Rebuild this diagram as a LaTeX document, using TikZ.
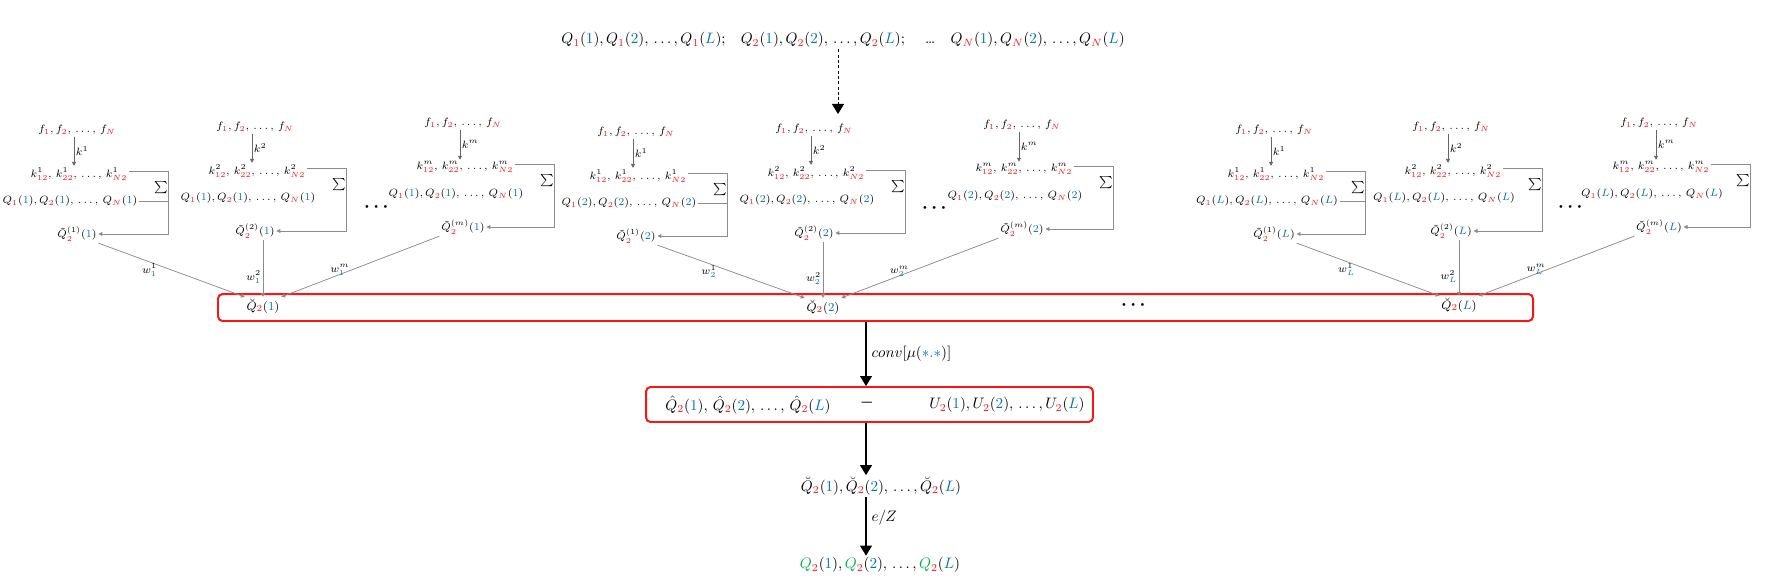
\documentclass[tikz,border=0pt]{standalone}
\usepackage{amsmath, amssymb}
\usepackage{tikz}
\usetikzlibrary{arrows.meta, calc}
\definecolor{rosso}{RGB}{255,20,20}
\definecolor{blu}{RGB}{0,112,192}
\definecolor{verde}{RGB}{0,176,80}
\newcommand{\rs}[1]{\textcolor{rosso}{#1}}
\newcommand{\bl}[1]{\textcolor{blu}{#1}}
% un blocco: #1 nome, #2 x, #3 y, #4 indice k, #5 argomento
\newcommand{\blocco}[5]{
\node[piccolo] (#1f) at (#2,#3) {$f_{\rs{1}},f_{\rs{2}},\,\dots,\,f_{\rs{N}}$};
\node[piccolo] (#1k) at ({#2+2},{#3+44}) {$k^{#4}_{\rs{12}},\,k^{#4}_{\rs{22}},\,\dots,\,k^{#4}_{\rs{N2}}$};
\node[piccolo] (#1q) at ({#2-7},{#3+71}) {$Q_{\rs{1}}(\bl{#5}),Q_{\rs{2}}(\bl{#5}),\,\dots,\,Q_{\rs{N}}(\bl{#5})$};
\node[piccolo] (#1t) at (#2,{#3+104}) {$\tilde{Q}^{(#4)}_{\rs{2}}(\bl{#5})$};
\node[medio] (#1s) at ({#2+84},{#3+58}) {$\sum$};
\coordinate (#1d) at ({#2+91},{#3+104});
\coordinate (#1a) at ($(#1f.south)+(-3,0)$);
\draw[black!60, line width=0.5pt, freccina] (#1a) -- (#1a |- #1k.north) node[midway, right, piccolo, text=black] (#1e) {$k^{#4}$};
\draw[linea, freccina] ([yshift=2pt]#1k.east) -| (#1d) -- (#1t.east);
}

\begin{document}
\begin{tikzpicture}[x=0.66pt, y=-0.66pt,
    piccolo/.style={font=\fontsize{7.3}{9}\selectfont, inner sep=1pt},
    medio/.style={font=\footnotesize, inner sep=1pt},
    testo/.style={inner sep=1pt},
    puntini/.style={font=\large, inner sep=0pt},
    linea/.style={draw=black!45, line width=0.5pt},
    freccina/.style={-{Triangle[length=2.6pt,width=2.6pt]}},
    frecciona/.style={-{Triangle[length=6.6pt,width=7.9pt]}, line width=0.8pt},
    rettangolo/.style={draw=rosso, line width=1.3pt, rounded corners=3pt, inner sep=0pt}]
    \useasboundingbox (0,0) rectangle (1786,584);
    % Dati in ingresso
    \node[testo] (cima) at (843,40) {$Q_{\rs{1}}(\bl{1}),Q_{\rs{1}}(\bl{2}),\,\dots,Q_{\rs{1}}(\bl{L})$;\quad
        $Q_{\rs{2}}(\bl{1}),Q_{\rs{2}}(\bl{2}),\,\dots,Q_{\rs{2}}(\bl{L})$;\quad\ \dots\quad
        $Q_{\rs{N}}(\bl{1}),Q_{\rs{N}}(\bl{2}),\,\dots,Q_{\rs{N}}(\bl{L})$};
    \coordinate (punta) at (838,114);
    \draw[frecciona, line width=0.6pt, dash pattern=on 2pt off 1.5pt] (cima.south -| punta) -- (punta);
    % Blocchi
    \blocco{a1}{77}{130}{1}{1}
    \blocco{a2}{255}{127}{2}{1}
    \blocco{a3}{463}{123}{m}{1}
    \blocco{b1}{636}{132}{1}{2}
    \blocco{b2}{814}{129}{2}{2}
    \blocco{b3}{1022}{125}{m}{2}
    \blocco{c1}{1274}{130}{1}{L}
    \blocco{c2}{1451}{127}{2}{L}
    \blocco{c3}{1659}{123}{m}{L}
    \draw[linea] (a1q.east) -- (a1q.east -| a1d);
    \draw[linea] (b1q.east) -- (b1q.east -| b1d);
    \draw[linea] (c1q.east) -- (c1q.east -| c1d);
    \node[puntini] (pa) at (378,207) {$\boldsymbol{\cdots}$};
    \node[puntini] (pb) at (936,208) {$\boldsymbol{\cdots}$};
    \node[puntini] (pc) at (1572,207) {$\boldsymbol{\cdots}$};
    % Primo rettangolo
    \node[rettangolo, minimum width=867.9pt, minimum height=17.8pt] (r1) at (875.5,307.5) {};
    \node[medio] (qb1) at (263,306) {$\breve{Q}_{\rs{2}}(\bl{1})$};
    \node[medio] (qb2) at (823,307) {$\breve{Q}_{\rs{2}}(\bl{2})$};
    \node[medio] (qbL) at (1459,305) {$\breve{Q}_{\rs{2}}(\bl{L})$};
    \node[puntini] (pr) at (1135,305) {$\boldsymbol{\cdots}$};
    % Pesi
    \draw[linea, freccina] (a1t.south east) -- (qb1.north west) node[pos=0.35, below, piccolo] (wa1) {$w^{1}_{\bl{1}}$};
    \draw[linea, freccina] (a2t.south -| qb1.north) -- (qb1.north) node[pos=0.65, left, piccolo] (wa2) {$w^{2}_{\bl{1}}$};
    \draw[linea, freccina] (a3t.south west) -- (qb1.north east) node[pos=0.63, above=-2pt, piccolo] (wa3) {$w^{m}_{\bl{1}}$};
    \draw[linea, freccina] (b1t.south east) -- (qb2.north west) node[pos=0.35, below, piccolo] (wb1) {$w^{1}_{\bl{2}}$};
    \draw[linea, freccina] (b2t.south -| qb2.north) -- (qb2.north) node[pos=0.65, left, piccolo] (wb2) {$w^{2}_{\bl{2}}$};
    \draw[linea, freccina] (b3t.south west) -- (qb2.north east) node[pos=0.63, above=-2pt, piccolo] (wb3) {$w^{m}_{\bl{2}}$};
    \draw[linea, freccina] (c1t.south east) -- (qbL.north west) node[pos=0.35, below, piccolo] (wc1) {$w^{1}_{\bl{L}}$};
    \draw[linea, freccina] (c2t.south -| qbL.north) -- (qbL.north) node[pos=0.65, left, piccolo] (wc2) {$w^{2}_{\bl{L}}$};
    \draw[linea, freccina] (c3t.south west) -- (qbL.north east) node[pos=0.63, above=-2pt, piccolo] (wc3) {$w^{m}_{\bl{L}}$};
    % Catena finale
    \coordinate (asse) at (866,0);
    \node[rettangolo, minimum width=295pt, minimum height=23.1pt] (r2) at (869.5,404.5) {};
    \node[testo] (qh) at (748,405) {$\hat{Q}_{\rs{2}}(\bl{1}),\,\hat{Q}_{\rs{2}}(\bl{2}),\,\dots,\,\hat{Q}_{\rs{2}}(\bl{L})$};
    \node[testo] (meno) at (867,403) {$\boldsymbol{-}$};
    \node[testo] (uu) at (1007,405) {$U_{\rs{2}}(\bl{1}),U_{\rs{2}}(\bl{2}),\,\dots,U_{\rs{2}}(\bl{L})$};
    \draw[frecciona] (r1.south -| asse) -- (r2.north -| asse) node[midway, right] (conv) {$conv[\mu(\bl{{*}.{*}})]$};
    \node[testo] (qc) at (881,486) {$\breve{Q}_{\rs{2}}(\bl{1}),\breve{Q}_{\rs{2}}(\bl{2}),\,\dots,\breve{Q}_{\rs{2}}(\bl{L})$};
    \draw[frecciona] (r2.south -| asse) -- (qc.north -| asse);
    \node[testo] (qv) at (880,565) {$\textcolor{verde}{Q}_{\rs{2}}(\bl{1}),\textcolor{verde}{Q}_{\rs{2}}(\bl{2}),\,\dots,\textcolor{verde}{Q}_{\rs{2}}(\bl{L})$};
    \draw[frecciona] (qc.south -| asse) -- (qv.north -| asse) node[pos=0.35, right] (ez) {$e/Z$};
\end{tikzpicture}
\end{document}
